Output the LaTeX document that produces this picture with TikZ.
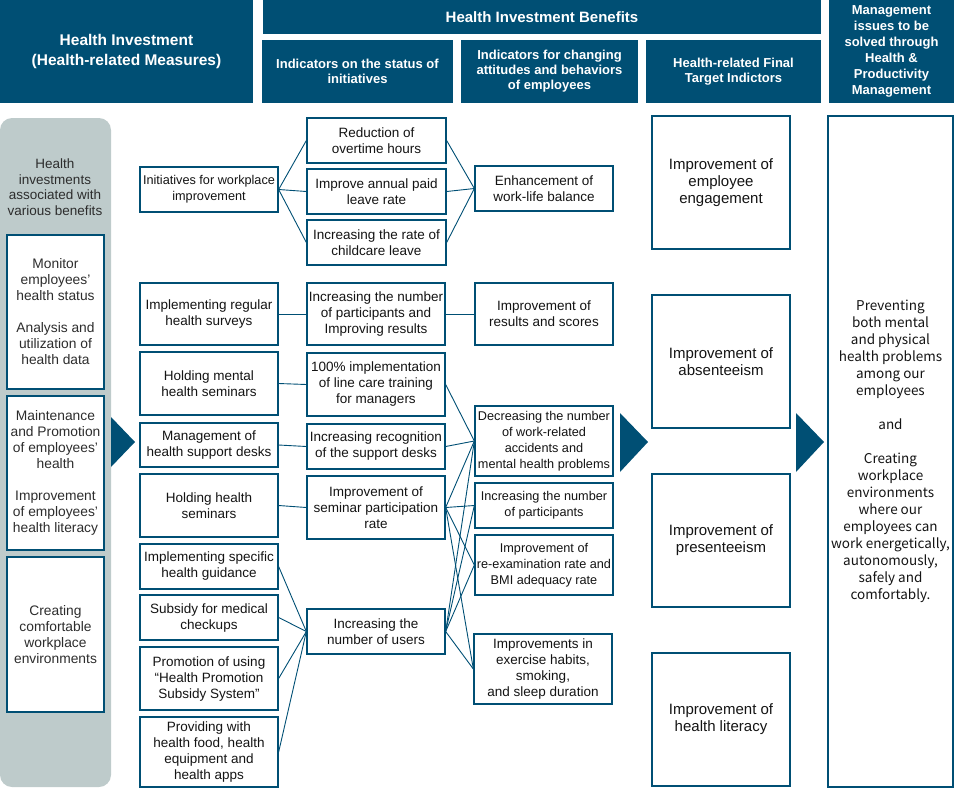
\documentclass[tikz,border=0pt]{standalone}
\usepackage{fontspec}
\setmainfont{Liberation Sans}
\newfontfamily\jpfont{Noto Sans CJK JP}
\definecolor{hdr}{RGB}{0,79,116}
\definecolor{gcol}{RGB}{190,203,203}
\definecolor{txt}{RGB}{20,20,20}
\definecolor{txtg}{RGB}{45,45,45}
\tikzset{
  hbox/.style={fill=hdr, text=white, inner sep=0pt, align=center},
  hA/.style={hbox, font=\bfseries\fontsize{15.5}{20}\selectfont},
  hB/.style={hbox, font=\bfseries\fontsize{15}{18}\selectfont},
  hC/.style={hbox, font=\bfseries\fontsize{13}{15}\selectfont},
  hD/.style={hbox, font=\bfseries\fontsize{13}{16}\selectfont},
  box/.style={draw=hdr, line width=1.3pt, fill=white, text=txt, inner sep=0pt, align=center},
  bN/.style={box, font=\fontsize{13.5}{16}\selectfont},
  bS/.style={box, font=\fontsize{12.7}{16}\selectfont},
  bL/.style={box, font=\fontsize{15}{17}\selectfont},
  bG/.style={box, text=txtg, font=\fontsize{13.8}{16}\selectfont},
  bR/.style={box, font=\jpfont\fontsize{13.5}{17}\selectfont},
  link/.style={draw=hdr, line width=0.9pt},
}
\newcommand\RB[7]{\node[#1, minimum width={(#4-#2)*1pt}, minimum height={(#5-#3)*1pt}] (#6) at ({(#2+#4)/2},{(#3+#5)/2}) {#7};}
\begin{document}
\begin{tikzpicture}[x=1pt,y=-1pt]
\useasboundingbox (0,0) rectangle (954,788);
% headers
\RB{hA}{0}{0}{253}{103}{h1}{Health Investment\\(Health-related Measures)}
\RB{hB}{263}{0}{821}{34}{h2}{Health Investment Benefits}
\RB{hC}{262}{40}{453}{103}{h3}{Indicators on the status of\\initiatives}
\RB{hC}{461}{40}{638}{103}{h4}{Indicators for changing\\attitudes and behaviors\\of employees}
\RB{hC}{646}{40}{821}{103}{h5}{Health-related Final\\Target Indictors}
\RB{hD}{829}{0}{954}{103}{h6}{Management\\issues to be\\solved through\\Health \&\\Productivity\\Management}
% gray column
\fill[gcol, rounded corners=12pt] (0,118) rectangle (111,787);
\node[text=txtg, align=center, font=\fontsize{13.5}{15.5}\selectfont] (gt) at (55,187) {Health\\investments\\associated with\\various benefits};
\RB{bG}{7}{235}{104}{389}{l1}{Monitor\\employees’\\health status\\[16pt]Analysis and\\utilization of\\health data}
\RB{bG}{7}{396}{104}{550}{l2}{Maintenance\\and Promotion\\of employees’\\health\\[16pt]Improvement\\of employees’\\health literacy}
\RB{bG}{7}{557}{104}{712}{l3}{Creating\\comfortable\\workplace\\environments}
% arrows
\fill[hdr] (111,417) -- (135,442) -- (111,467) -- cycle;
\fill[hdr] (620,413) -- (648,442) -- (620,472) -- cycle;
\fill[hdr] (796,413) -- (824,442) -- (796,472) -- cycle;
% column 1
\RB{bS}{140}{167}{278}{212}{a1}{Initiatives for workplace\\improvement}
\RB{bN}{140}{283}{278}{345}{a2}{Implementing regular\\health surveys}
\RB{bN}{140}{352}{278}{415}{a3}{Holding mental\\health seminars}
\RB{bN}{140}{423}{278}{467}{a4}{Management of\\health support desks}
\RB{bN}{140}{474}{278}{537}{a5}{Holding health\\seminars}
\RB{bN}{140}{544}{278}{589}{a6}{Implementing specific\\health guidance}
\RB{bN}{140}{595}{278}{640}{a7}{Subsidy for medical\\checkups}
\RB{bN}{140}{647}{278}{710}{a8}{Promotion of using\\“Health Promotion\\Subsidy System”}
\RB{bN}{140}{717}{278}{787}{a9}{Providing with\\health food, health\\equipment and\\health apps}
% column 2
\RB{bN}{307}{118}{446}{163}{b1}{Reduction of\\overtime hours}
\RB{bN}{307}{169}{446}{214}{b2}{Improve annual paid\\leave rate}
\RB{bN}{307}{220}{446}{265}{b3}{Increasing the rate of\\childcare leave}
\RB{bN}{307}{283}{445}{345}{b4}{Increasing the number\\of participants and\\Improving results}
\RB{bN}{307}{353}{445}{416}{b5}{100\% implementation\\of line care training\\for managers}
\RB{bN}{307}{424}{445}{469}{b6}{Increasing recognition\\of the support desks}
\RB{bN}{307}{476}{445}{539}{b7}{Improvement of\\seminar participation\\rate}
\RB{bN}{307}{609}{445}{654}{b8}{Increasing the\\number of users}
% column 3
\RB{bN}{475}{166}{613}{211}{c1}{Enhancement of\\work-life balance}
\RB{bN}{475}{283}{613}{345}{c2}{Improvement of\\results and scores}
\RB{bS}{475}{406}{613}{476}{c3}{Decreasing the number\\of work-related\\accidents and\\mental health problems}
\RB{bS}{475}{483}{613}{528}{c4}{Increasing the number\\of participants}
\RB{bS}{475}{535}{613}{595}{c5}{Improvement of\\re-examination rate and\\BMI adequacy rate}
\RB{bN}{474}{634}{612}{704}{c6}{Improvements in\\exercise habits,\\smoking,\\and sleep duration}
% column 4
\RB{bL}{652}{116}{790}{249}{d1}{Improvement of\\employee\\engagement}
\RB{bL}{652}{295}{790}{428}{d2}{Improvement of\\absenteeism}
\RB{bL}{652}{474}{790}{607}{d3}{Improvement of\\presenteeism}
\RB{bL}{652}{653}{790}{786}{d4}{Improvement of\\health literacy}
% right
\RB{bR}{828}{116}{953}{787}{e1}{Preventing\\both mental\\and physical\\health problems\\among our\\employees\\[17pt]and\\[17pt]Creating\\workplace\\environments\\where our\\employees can\\work energetically,\\autonomously,\\safely and\\comfortably.}
% connectors
\foreach \t in {b1,b2,b3} {\draw[link] (a1.east) -- (\t.west); \draw[link] (\t.east) -- (c1.west);}
\draw[link] (a2.east) -- (b4.west);
\draw[link] (b4.east) -- (c2.west);
\draw[link] (a3.east) -- (b5.west);
\draw[link] (a4.east) -- (b6.west);
\draw[link] (a5.east) -- (b7.west);
\foreach \s in {a6,a7,a8,a9} {\draw[link] (\s.east) -- (b8.west);}
\draw[link] (b5.east) -- (c3.west);
\draw[link] (b6.east) -- (c3.west);
\foreach \t in {c3,c4,c5,c6} {\draw[link] (b7.east) -- (\t.west); \draw[link] (b8.east) -- (\t.west);}
\end{tikzpicture}
\end{document}
